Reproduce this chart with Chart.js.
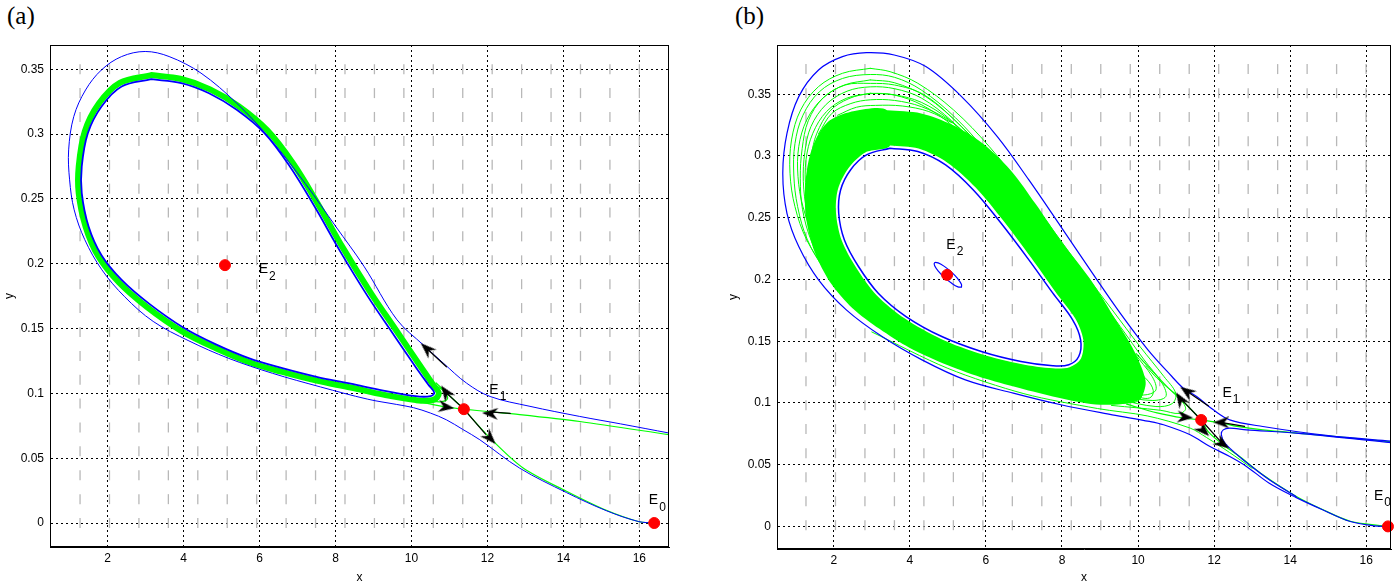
<!DOCTYPE html>
<html><head><meta charset="utf-8">
<script src="https://cdn.jsdelivr.net/npm/chart.js@4/dist/chart.umd.min.js"></script>
<style>
body{margin:0;background:#fff;width:1399px;height:586px;overflow:hidden;position:relative}
canvas{position:absolute;top:0}
.tag{position:absolute;font-family:"Liberation Serif","DejaVu Serif",serif;font-size:25px;line-height:25px;color:#000}
</style></head><body>
<div class="tag" style="left:7px;top:3px">(a)</div>
<div class="tag" style="left:735px;top:3px">(b)</div>
<canvas id="ca" width="700" height="586" style="left:0"></canvas>
<canvas id="cb" width="699" height="586" style="left:700px"></canvas>
<script>
// ---------- shared tick data ----------
const xTicks = [2,4,6,8,10,12,14,16];
const xTickLabels = ['2','4','6','8','10','12','14','16'];
const yTicks = [0,0.05,0.1,0.15,0.2,0.25,0.3,0.35];
const yTickLabels = ['0','0.05','0.1','0.15','0.2','0.25','0.3','0.35'];
const eqMain = ['E','E','E'];
const eqSub = ['0','1','2'];

// ---------- panel (a) ----------
const fieldAX = [1.275,2.05,2.825,3.6,4.375,5.15,5.925,6.7,7.475,8.25,9.025,9.8,10.575,11.35,12.125,12.9,13.675,14.45,15.225,16.0];
const fieldAY = [0,0.0184,0.0368,0.0553,0.0737,0.0921,0.1105,0.1289,0.1474,0.1658,0.1842,0.2026,0.2211,0.2395,0.2579,0.2763,0.2947,0.3132,0.3316,0.35];
const aOuterX = [16.8,15.5,14.43,13.12,12.07,11.45,10.84,10.31,9.62,8.75,8.0,7.2,6.3,5.4,4.46,3.62,2.99,2.37,1.84,1.42,1.11,0.975,1.0,1.12,1.4,1.85,2.45,3.2,4.14,5.19,6.34,7.6,8.85,9.6,10.05,10.5,10.92,11.35,11.8,12.85,14.08,15.13,15.97,16.39];
const aOuterY = [0.0693,0.0765,0.0822,0.09,0.0976,0.1079,0.1233,0.1374,0.1567,0.198,0.229,0.262,0.2956,0.3238,0.347,0.3598,0.3637,0.3598,0.3495,0.334,0.3135,0.2878,0.2647,0.2416,0.2185,0.1953,0.1745,0.1555,0.1405,0.127,0.1155,0.105,0.0955,0.0915,0.089,0.0848,0.0796,0.0722,0.0642,0.0423,0.0235,0.0095,0.0012,0];
const aInnerX = [3.15,3.94,4.67,5.4,6.13,6.8,7.45,8.1,8.85,9.5,10.1,10.45,10.6,10.5,10.11,9.26,8.4,7.5,6.6,5.75,4.85,3.99,3.1,2.37,1.84,1.5,1.32,1.32,1.48,1.84,2.37,3.15];
const aInnerY = [0.3423,0.3393,0.3315,0.3187,0.3007,0.275,0.2441,0.2107,0.1748,0.1465,0.1208,0.1065,0.1005,0.0978,0.0978,0.1022,0.1075,0.1128,0.1195,0.1268,0.1378,0.1508,0.169,0.1875,0.2065,0.2287,0.2544,0.275,0.3007,0.3213,0.3367,0.3423];
const aBandX = [3.15,3.94,4.7,5.45,6.2,6.88,7.53,8.18,8.94,9.6,10.2,10.56,10.72,10.58,10.11,9.26,8.4,7.5,6.6,5.75,4.85,3.95,3.04,2.3,1.76,1.42,1.24,1.24,1.4,1.77,2.32,3.15];
const aBandY = [0.3455,0.3425,0.3345,0.3215,0.303,0.2775,0.2465,0.213,0.177,0.1485,0.1225,0.107,0.1,0.095,0.0948,0.099,0.1045,0.1098,0.1165,0.1238,0.1348,0.148,0.1665,0.1855,0.2055,0.2287,0.2544,0.275,0.302,0.3235,0.3395,0.3455];
const aStableX = [16.78,14.43,12.68,12.07,11.38];
const aStableY = [0.0681,0.0783,0.0842,0.0858,0.0878];
const aUnstDownX = [11.38,12.07,12.94,14.08,15.13,15.97,16.39];
const aUnstDownY = [0.0878,0.0655,0.0424,0.0245,0.0098,0.0012,0];
const aUnstUpX = [11.38,10.88,10.7];
const aUnstUpY = [0.0878,0.1015,0.105];
const aLeftInX = [9.5,10.3,10.9,11.38];
const aLeftInY = [0.0975,0.093,0.0895,0.0878];
const aTipX = [10.2,10.75,10.95,10.85,10.65];
const aTipY = [0.0955,0.0935,0.096,0.102,0.108];
const aShaft1X = [10.92,10.38], aShaft1Y = [0.1205,0.1352];
const aShaft2X = [11.38,10.95], aShaft2Y = [0.0878,0.0995];
const aShaft3X = [12.6,12.15], aShaft3Y = [0.0845,0.0855];
const aShaft4X = [11.38,11.95], aShaft4Y = [0.0878,0.0685];
const aArrowX = [10.4,10.9,10.92,12.07,12.07];
const aArrowY = [0.1345,0.101,0.0894,0.0845,0.0655];
const aArrowAngle = [-137,-125,8,183,47];
const aEqX = [16.39,11.38,5.09];
const aEqY = [0,0.0878,0.1989];
const aLabelX = [16.25,12.05,5.98];
const aLabelY = [0.0175,0.1025,0.1955];

// ---------- panel (b) ----------
const fieldBX = [1.27,2.045,2.82,3.595,4.37,5.145,5.92,6.695,7.47,8.245,9.02,9.795,10.57,11.345,12.12,12.895,13.67,14.445,15.22,15.995];
const fieldBY = [0.001,0.0204,0.0399,0.0593,0.0788,0.0982,0.1176,0.1371,0.1565,0.176,0.1954,0.2148,0.2343,0.2537,0.2732,0.2926,0.312,0.3315,0.3509,0.3704];
const bOuterX = [16.76,15.0,13.28,12.41,11.98,11.54,11.19,10.89,10.26,9.53,8.8,7.97,7.13,6.3,5.36,4.42,3.59,2.86,2.23,1.6,1.08,0.77,0.66,0.77,1.08,1.6,2.33,3.27,4.32,5.46,6.72,7.97,9.32,10.3,10.67,11.37,11.89,12.41,12.85,13.45,14.15,14.85,15.58,16.2,16.57];
const bOuterY = [0.0688,0.0735,0.0809,0.0863,0.0944,0.1052,0.112,0.1214,0.143,0.1727,0.2051,0.2428,0.2806,0.3157,0.3481,0.3724,0.3818,0.3837,0.3805,0.3697,0.3481,0.3184,0.286,0.2536,0.2267,0.1997,0.1754,0.1538,0.1349,0.1187,0.1079,0.0985,0.0904,0.085,0.0823,0.0742,0.0647,0.0566,0.0486,0.035,0.0235,0.0135,0.004,0.0005,0];
const bHookX = [16.76,14.15,12.85,12.41,12.24,12.19,12.28,12.41,12.76,13.45,14.15];
const bHookY = [0.0675,0.0755,0.0782,0.0796,0.0782,0.0742,0.0674,0.0634,0.054,0.0378,0.0243];
const bInnerX = [3.48,4.21,4.94,5.67,6.4,7.13,7.76,8.28,8.49,8.44,8.18,7.76,6.92,5.88,4.84,3.9,3.17,2.65,2.28,2.13,2.18,2.44,2.86,3.48];
const bInnerY = [0.3063,0.3036,0.2928,0.2725,0.2455,0.2159,0.1889,0.1673,0.1511,0.1376,0.1309,0.1301,0.1336,0.1417,0.1538,0.17,0.1889,0.2105,0.232,0.2536,0.2725,0.2887,0.3009,0.3063];
const bLoopE2X = [5.358,5.356,5.26,5.096,4.907,4.745,4.651,4.653,4.749,4.913,5.102,5.265,5.358];
const bLoopE2Y = [0.1938,0.1962,0.2006,0.2059,0.2106,0.2134,0.2136,0.2112,0.2068,0.2015,0.1969,0.194,0.1938];
// solid green ring: outer edge (clockwise) then inner edge (counter-clockwise)
const bRingOuterX = [3.4,4.3,5.1,5.9,6.65,7.3,7.98,8.75,9.35,9.85,10.1,10.2,10.0,9.0,8.0,7.0,6.0,5.0,4.0,3.2,2.5,1.9,1.5,1.28,1.24,1.33,1.55,1.9,2.55,3.4];
const bRingOuterY = [0.337,0.3345,0.3255,0.3105,0.2885,0.2615,0.231,0.2,0.1705,0.145,0.128,0.115,0.102,0.0985,0.1035,0.111,0.1195,0.1305,0.1445,0.16,0.1765,0.198,0.222,0.248,0.27,0.295,0.315,0.329,0.3365,0.337];
const bRingInnerX = [3.48,2.83,2.39,2.11,2.06,2.21,2.59,3.12,3.87,4.82,5.87,6.92,7.76,8.2,8.5,8.56,8.35,7.82,7.19,6.46,5.73,4.98,4.23,3.48];
const bRingInnerY = [0.3085,0.3029,0.2903,0.273,0.2536,0.2315,0.2095,0.1875,0.1683,0.1518,0.1396,0.1315,0.128,0.129,0.136,0.1511,0.1683,0.1903,0.2175,0.2475,0.2745,0.2948,0.306,0.3085];
const bG1X = [2.96,2.23,1.6,1.13,0.89,0.85,0.98,1.29,1.81,2.54,3.48,4.52,5.67,6.92,8.28,9.53,10.47,10.9,10.99,10.68,10.05,9.32,8.59,7.76,6.92,6.09,5.15,4.21,3.48,2.96];
const bG1Y = [0.371,0.367,0.3562,0.3373,0.313,0.286,0.259,0.232,0.2078,0.1862,0.1659,0.1484,0.1336,0.1214,0.1106,0.1025,0.0971,0.0995,0.1079,0.1214,0.1457,0.1754,0.2051,0.2402,0.2752,0.3076,0.3373,0.3589,0.3683,0.371];
const bG2X = [2.96,2.28,1.71,1.29,1.08,1.06,1.19,1.5,1.97,2.65,3.53,4.58,5.72,6.98,8.33,9.53,10.37,10.73,10.63,10.16,9.53,8.8,7.97,7.13,6.3,5.36,4.42,3.59,2.96];
const bG2Y = [0.3616,0.3575,0.3468,0.3292,0.3076,0.2833,0.259,0.2334,0.2105,0.1889,0.1686,0.1511,0.1363,0.1241,0.1133,0.1058,0.102,0.1052,0.116,0.1349,0.1619,0.1929,0.228,0.2617,0.2928,0.3238,0.3481,0.3594,0.3616];
const bG3X = [2.96,2.33,1.81,1.45,1.27,1.27,1.42,1.76,2.28,3.01,3.9,4.94,6.09,7.34,8.59,9.64,10.21,10.47,10.37,9.9,9.27,8.54,7.71,6.87,6.04,5.15,4.32,3.59,2.96];
const bG3Y = [0.3508,0.3467,0.336,0.3184,0.2968,0.2725,0.2482,0.224,0.2024,0.1821,0.1646,0.1484,0.1349,0.1228,0.1125,0.1071,0.1066,0.1106,0.1214,0.1403,0.1673,0.1983,0.2321,0.2658,0.2955,0.3238,0.3413,0.3494,0.3508];
const bArcAX = [2.3,1.75,1.3,1.05,0.95,0.98,1.19,1.62,2.23,2.96,3.6,4.3,5.2,6.1,6.9];
const bArcAY = [0.19,0.2085,0.2327,0.259,0.2846,0.31,0.333,0.352,0.3628,0.366,0.3637,0.3535,0.331,0.3005,0.27];
const bArcBX = [2.5,1.95,1.55,1.3,1.2,1.24,1.4,1.8,2.35,2.96,3.6,4.3,5.1,6.0];
const bArcBY = [0.185,0.2035,0.2285,0.2545,0.2795,0.303,0.3238,0.3418,0.3525,0.356,0.3545,0.347,0.3285,0.3005];
const bArcCX = [1.6,1.95,2.45,2.96,3.6,4.3,5.0,5.6];
const bArcCY = [0.318,0.3345,0.3425,0.3455,0.345,0.34,0.3295,0.315];
const bArcDX = [2.1,2.6,3.1,3.8,4.5,5.1];
const bArcDY = [0.333,0.3395,0.341,0.3405,0.336,0.327];
const bArcEX = [1.4,1.55,1.9,2.4,2.96,3.6,4.3,5.05,5.8];
const bArcEY = [0.30,0.318,0.3365,0.3465,0.3505,0.3495,0.3435,0.329,0.306];
const bArcFX = [2.4,1.85,1.42,1.18,1.12,1.17,1.33,1.72,2.3,2.96,3.6,4.35,5.15,6.05];
const bArcFY = [0.1875,0.206,0.2305,0.2565,0.282,0.306,0.3285,0.347,0.3575,0.3588,0.3575,0.35,0.33,0.3005];
const bH1X = [8.8,9.9,10.3,10.4,10.2,9.8];
const bH1Y = [0.1035,0.105,0.104,0.11,0.12,0.13];
const bH2X = [8.8,9.7,10.05,10.1,9.9,9.6];
const bH2Y = [0.1,0.1,0.103,0.117,0.125,0.133];
const bH3X = [9.3,10.6,11.1,11.25,11.0,10.5,10.2];
const bH3Y = [0.098,0.094,0.0915,0.096,0.106,0.12,0.13];
const bStableX = [16.76,14.5,13.28,12.6,12.2,11.66];
const bStableY = [0.0682,0.0748,0.0782,0.081,0.0838,0.0862];
const bUnstDownX = [11.66,11.85,12.24,12.67,13.28,14.15,14.85,15.58,16.57];
const bUnstDownY = [0.0862,0.0765,0.066,0.0566,0.0418,0.0245,0.0137,0.0042,0];
const bUnstUpX = [11.66,11.1,10.8,10.4,9.95];
const bUnstUpY = [0.0862,0.104,0.112,0.125,0.14];
const bLeftInX = [9.7,10.5,11.2,11.66];
const bLeftInY = [0.099,0.092,0.0878,0.0862];
const bLowX = [3.0,5.0,7.0,8.93,10.24,11.37,11.8,12.4,13.0];
const bLowY = [0.1575,0.128,0.1075,0.0955,0.0895,0.0796,0.072,0.06,0.047];
const bShaft1X = [11.85,11.35], bShaft1Y = [0.0975,0.108];
const bShaft2X = [11.66,11.15], bShaft2Y = [0.0862,0.1025];
const bShaft3X = [12.8,12.25], bShaft3Y = [0.081,0.0838];
const bShaft4X = [11.66,12.25], bShaft4Y = [0.0862,0.066];
const bArrowX = [11.28,11.11,11.24,12.19,11.72,12.22];
const bArrowY = [0.1093,0.1031,0.0885,0.0842,0.0777,0.0669];
const bArrowAngle = [-145,-122,5,180,45,35];
const bEqX = [16.57,11.66,4.98];
const bEqY = [0,0.0862,0.2037];
const bLabelX = [16.2,12.22,4.96];
const bLabelY = [0.0245,0.108,0.228];

// ---------- helpers ----------
function P(xs, ys){ return xs.map((x,i)=>({x:x, y:ys[i]})); }
function G(xs, ys){ const o=[]; ys.forEach(y=>xs.forEach(x=>o.push({x:x,y:y}))); return o; }
const BLUE='#0000ff', GREEN='#00ff00';
function L(xs, ys, color, width, order, tension){
  return {data:P(xs,ys), showLine:true, borderColor:color, backgroundColor:color, borderWidth:width,
    pointRadius:0, pointHoverRadius:0, tension:(tension===undefined?0.35:tension), order:order,
    fill:false, borderCapStyle:'round', borderJoinStyle:'round'};
}
function arrowImage(){
  const c=document.createElement('canvas'); c.width=16; c.height=12;
  const g=c.getContext('2d'); g.fillStyle='#000'; g.beginPath();
  g.moveTo(16,6); g.lineTo(0,0); g.lineTo(5,6); g.lineTo(0,12); g.closePath(); g.fill();
  return c;
}
const ARROW = arrowImage();

const framePlugin = {id:'frame', afterDatasetsDraw(chart){
  const {ctx, chartArea:a} = chart; ctx.save(); ctx.strokeStyle='#000'; ctx.lineWidth=1;
  ctx.strokeRect(Math.round(a.left)+0.5, Math.round(a.top)+0.5, Math.round(a.right-a.left)-1, Math.round(a.bottom-a.top)-1);
  ctx.restore();
}};
const eqLabelPlugin = {id:'eqlabels', afterDatasetsDraw(chart, args, o){
  const {ctx} = chart, sx=chart.scales.x, sy=chart.scales.y;
  ctx.save(); ctx.fillStyle='#000'; ctx.textBaseline='middle'; ctx.textAlign='left';
  o.x.forEach((x,i)=>{
    const px=sx.getPixelForValue(x), py=sy.getPixelForValue(o.y[i]);
    ctx.font='14px "Liberation Sans", Arial, sans-serif'; ctx.fillText(eqMain[i], px, py);
    const w=ctx.measureText(eqMain[i]).width;
    ctx.font='12px "Liberation Sans", Arial, sans-serif'; ctx.fillText(eqSub[i], px+w+1, py+7);
  });
  ctx.restore();
}};

function makeChart(id, c){
  const ds = [];
  ds.push({data:G(c.fieldX,c.fieldY), showLine:false, pointStyle:'line', pointRotation:90, pointRadius:5,
    pointBorderColor:'#b8b8b8', pointBorderWidth:1.3, pointBackgroundColor:'#b8b8b8', order:30});
  (c.rings||[]).forEach(r=>ds.push({data:P(r[0],r[1]), showLine:true, borderWidth:0, borderColor:'rgba(0,0,0,0)',
    backgroundColor:GREEN, fill:'shape', tension:0.3, pointRadius:0, order:25}));
  c.greens.forEach(g=>ds.push(L(g[0],g[1],GREEN,g[2],20,g[3])));
  c.blues.forEach(b=>ds.push(L(b[0],b[1],BLUE,b[2],10,b[3])));
  c.shafts.forEach(s=>ds.push(L(s[0],s[1],'#000',1.2,5,0)));
  ds.push({data:P(c.arrowX,c.arrowY), showLine:false, pointStyle:ARROW, pointRadius:7,
    pointRotation:c.arrowAngle, order:2});
  ds.push({data:P(c.eqX,c.eqY), showLine:false, pointStyle:'circle', pointRadius:5.5,
    pointBackgroundColor:'#ff0000', pointBorderColor:'#ff0000', pointBorderWidth:1, order:1, clip:false});
  const font = {family:'"Liberation Sans", Arial, sans-serif', size:12};
  return new Chart(document.getElementById(id), {
    type:'scatter', data:{datasets:ds},
    options:{responsive:false, animation:false, events:[],
      layout:{padding:{left:c.padL, top:45, right:c.padR, bottom:0}},
      plugins:{legend:{display:false}, tooltip:{enabled:false}, eqlabels:{x:c.labelX, y:c.labelY}},
      scales:{
        x:{type:'linear', min:c.xmin, max:c.xmax,
          afterBuildTicks:s=>{s.ticks = xTicks.map(v=>({value:v}));},
          afterFit:s=>{s.height=c.xH;},
          ticks:{autoSkip:false, maxRotation:0, padding:4, color:'#000', font:font, callback:(v,i)=>xTickLabels[i]},
          grid:{color:'#000', lineWidth:1, drawTicks:false},
          border:{display:true, color:'#000', width:1, dash:[2,3]},
          title:{display:true, text:'x', color:'#000', font:font, padding:{top:0,bottom:1}}},
        y:{type:'linear', min:c.ymin, max:c.ymax,
          afterBuildTicks:s=>{s.ticks = yTicks.map(v=>({value:v}));},
          afterFit:s=>{s.width=c.yW;},
          ticks:{autoSkip:false, padding:6, color:'#000', font:font, callback:(v,i)=>yTickLabels[i]},
          grid:{color:'#000', lineWidth:1, drawTicks:false},
          border:{display:true, color:'#000', width:1, dash:[2,3]},
          title:{display:true, text:'y', color:'#000', font:font, padding:{top:1,bottom:0}}}
      }},
    plugins:[framePlugin, eqLabelPlugin]
  });
}

makeChart('ca', {
  xmin:0.484, xmax:16.78, ymin:-0.0185, ymax:0.3687, padL:1, padR:31, yW:49, xH:39,
  fieldX:fieldAX, fieldY:fieldAY,
  greens:[[aBandX,aBandY,6,0.35],[aStableX,aStableY,1.2,0.3],[aUnstDownX,aUnstDownY,1.2,0.3],[aUnstUpX,aUnstUpY,1.2,0.3],[aLeftInX,aLeftInY,1.2,0.3],[aTipX,aTipY,1.2,0.4]],
  blues:[[aOuterX,aOuterY,1,0.35],[aInnerX,aInnerY,1.8,0.35]],
  shafts:[[aShaft1X,aShaft1Y],[aShaft2X,aShaft2Y],[aShaft3X,aShaft3Y],[aShaft4X,aShaft4Y]],
  arrowX:aArrowX, arrowY:aArrowY, arrowAngle:aArrowAngle,
  eqX:aEqX, eqY:aEqY, labelX:aLabelX, labelY:aLabelY
});
makeChart('cb', {
  xmin:0.508, xmax:16.65, ymin:-0.0183, ymax:0.3899, padL:25, padR:3, yW:52, xH:37,
  fieldX:fieldBX, fieldY:fieldBY,
  rings:[[bRingOuterX.concat(bRingInnerX), bRingOuterY.concat(bRingInnerY)]],
  greens:[[bG1X,bG1Y,1,0.35],[bG2X,bG2Y,1,0.35],[bG3X,bG3Y,1,0.35],[bArcAX,bArcAY,1,0.35],[bArcBX,bArcBY,1,0.35],[bArcCX,bArcCY,1,0.35],[bArcDX,bArcDY,1,0.35],
    [bArcEX,bArcEY,1,0.35],[bArcFX,bArcFY,1,0.35],
    [bH1X,bH1Y,1,0.4],[bH2X,bH2Y,1,0.4],[bH3X,bH3Y,1,0.4],
    [bStableX,bStableY,1.2,0.3],[bUnstDownX,bUnstDownY,1.2,0.3],[bUnstUpX,bUnstUpY,1.2,0.3],[bLeftInX,bLeftInY,1.2,0.3],[bLowX,bLowY,1,0.3]],
  blues:[[bOuterX,bOuterY,1.2,0.35],[bHookX,bHookY,1.2,0.3],[bInnerX,bInnerY,1.5,0.35],[bLoopE2X,bLoopE2Y,1.2,0.4]],
  shafts:[[bShaft1X,bShaft1Y],[bShaft2X,bShaft2Y],[bShaft3X,bShaft3Y],[bShaft4X,bShaft4Y]],
  arrowX:bArrowX, arrowY:bArrowY, arrowAngle:bArrowAngle,
  eqX:bEqX, eqY:bEqY, labelX:bLabelX, labelY:bLabelY
});
</script>
</body></html>
